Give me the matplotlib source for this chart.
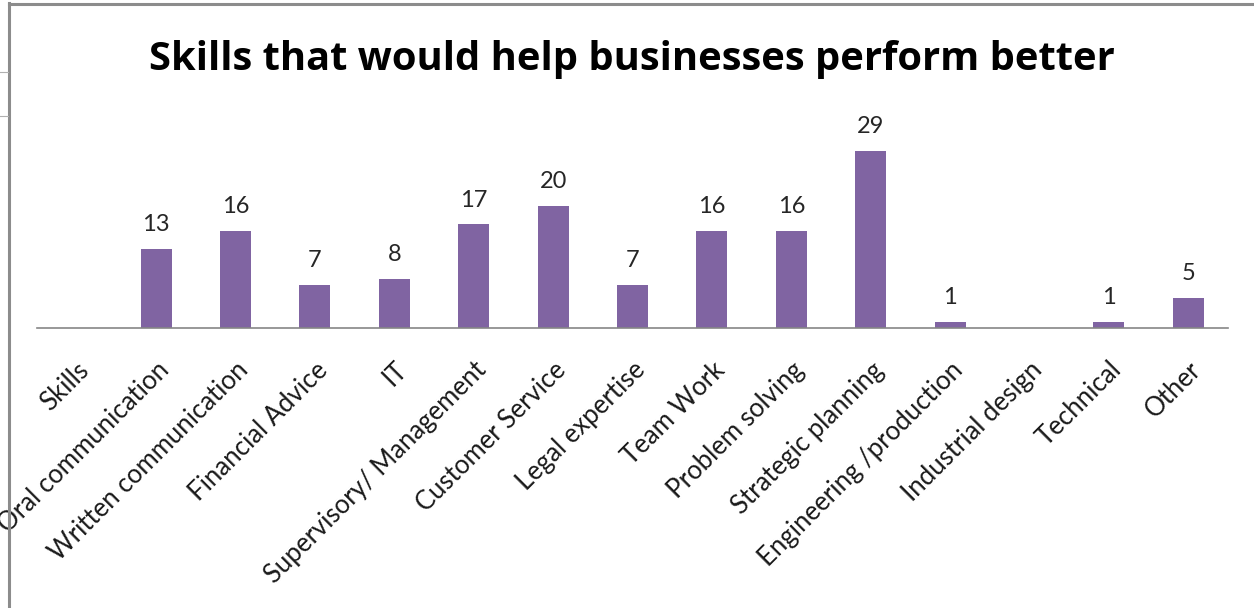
import matplotlib
matplotlib.use("Agg")
import matplotlib.pyplot as plt
from matplotlib.lines import Line2D

categories = ["Skills", "Oral communication", "Written communication",
              "Financial Advice", "IT", "Supervisory/ Management",
              "Customer Service", "Legal expertise", "Team Work",
              "Problem solving", "Strategic planning",
              "Engineering /production", "Industrial design", "Technical",
              "Other"]
counts = [None, 13, 16, 7, 8, 17, 20, 7, 16, 16, 29, 1, None, 1, 5]

bar_color = "#8064A2"
font = "Lato"

fig = plt.figure(figsize=(12.54, 6.08), dpi=100)
ax = fig.add_axes([37 / 1254, 280 / 608, (1228 - 37) / 1254, 195 / 608])

x = list(range(len(categories)))
heights = [c if c is not None else 0 for c in counts]
bars = ax.bar(x, heights, width=0.39, color=bar_color)

for xi, c in zip(x, counts):
    if c is None:
        continue
    ax.annotate(str(c), (xi, c), xytext=(0, 10), textcoords="offset points",
                ha="center", va="bottom", fontsize=17, family=font,
                color="#262626", annotation_clip=False)

ax.set_xlim(-0.5, len(categories) - 0.5)
ax.set_ylim(0, 32)
for s in ["top", "right", "left"]:
    ax.spines[s].set_visible(False)
ax.spines["bottom"].set_color("#868686")
ax.spines["bottom"].set_linewidth(1.2)
ax.set_yticks([])
ax.set_xticks(x)
ax.set_xticklabels(categories, rotation=45, ha="right", va="top",
                   rotation_mode="anchor", fontsize=18.5, family=font,
                   color="#1a1a1a")
ax.tick_params(axis="x", length=0, pad=21)

fig.text(632 / 1254, 1 - 70 / 608, "Skills that would help businesses perform better",
         ha="center", va="baseline", fontsize=28.7, fontweight="bold",
         family="Open Sans")

# chart frame (left and top edges visible in the crop)
fig.add_artist(Line2D([8.5 / 1254, 8.5 / 1254], [0, 1 - 3 / 608],
                      transform=fig.transFigure, color="#8c8c8c", lw=2.2))
fig.add_artist(Line2D([8.5 / 1254, 1], [1 - 3.5 / 608, 1 - 3.5 / 608],
                      transform=fig.transFigure, color="#8c8c8c", lw=2.2))
for yy in [72, 116]:
    fig.add_artist(Line2D([0, 8 / 1254], [1 - yy / 608, 1 - yy / 608],
                          transform=fig.transFigure, color="#b0b0b0", lw=0.8))

fig.savefig("out.png", dpi=100)
